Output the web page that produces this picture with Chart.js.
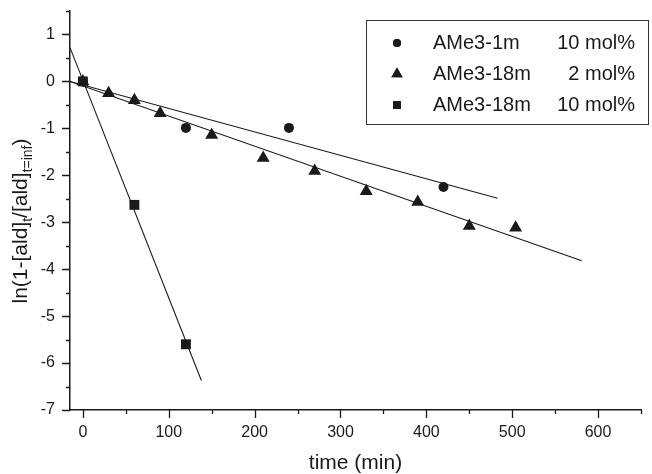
<!DOCTYPE html>
<html>
<head>
<meta charset="utf-8">
<script src="https://cdn.jsdelivr.net/npm/chart.js@4"></script>
<style>
  html, body { margin: 0; padding: 0; background: #fff; }
  #wrap { width: 652px; height: 474px; }
</style>
</head>
<body>
<div id="wrap"><canvas id="kineticsChart"></canvas></div>
<script>
// measured points
const time1m = [0, 120, 240, 420];
const ln1m = [0, -0.99, -0.99, -2.25];
const time18m2 = [0, 30, 60, 90, 150, 210, 270, 330, 390, 450, 504];
const ln18m2 = [0, -0.25, -0.40, -0.68, -1.14, -1.63, -1.91, -2.34, -2.57, -3.08, -3.12];
const time18m10 = [0, 60, 120];
const ln18m10 = [0, -2.63, -5.6];

// linear fits (end points)
const fit1mX = [-15, 483];
const fit1mY = [0.0, -2.49];
const fit18m2X = [-15, 581];
const fit18m2Y = [0.0, -3.82];
const fit18m10X = [-15, 138];
const fit18m10Y = [0.72, -6.37];

const xTicks = [0, 50, 100, 150, 200, 250, 300, 350, 400, 450, 500, 550, 600, 650];
const yTicks = [-7, -6.5, -6, -5.5, -5, -4.5, -4, -3.5, -3, -2.5, -2, -1.5, -1, -0.5, 0, 0.5, 1, 1.5];

const legendNames = ['AMe3-1m', 'AMe3-18m', 'AMe3-18m'];
const legendLoads = ['10 mol%', '2 mol%', '10 mol%'];
const legendShapes = ['circle', 'triangle', 'rect'];

const FONT = '"Liberation Sans", Arial, sans-serif';
const INK = '#1a1a1a';

const toPoints = (xs, ys) => xs.map((x, i) => ({ x: x, y: ys[i] }));

const markerSet = (label, xs, ys, shape, r) => ({
    label: label,
    data: toPoints(xs, ys),
    pointStyle: shape,
    pointRadius: r,
    pointBackgroundColor: INK,
    pointBorderColor: INK,
    pointBorderWidth: 0,
    showLine: false
});

const fitSet = (xs, ys) => ({
    data: toPoints(xs, ys),
    showLine: true,
    borderColor: INK,
    borderWidth: 1.1,
    pointRadius: 0,
    fill: false
});

// ticks, axis titles and legend box
const extras = {
    id: 'extras',
    afterDraw(chart) {
        const { ctx, scales: { x, y } } = chart;
        ctx.save();
        ctx.strokeStyle = INK;
        ctx.lineWidth = 1.3;
        ctx.beginPath();
        xTicks.forEach(v => {
            const px = Math.round(x.getPixelForValue(v)) + 0.5;
            const len = v % 100 === 0 ? 8 : 4;
            ctx.moveTo(px, y.bottom);
            ctx.lineTo(px, y.bottom + len);
        });
        yTicks.forEach(v => {
            const py = Math.round(y.getPixelForValue(v)) + 0.5;
            const len = Number.isInteger(v) ? 8 : 4;
            ctx.moveTo(x.left, py);
            ctx.lineTo(x.left - len, py);
        });
        ctx.stroke();

        ctx.fillStyle = INK;
        ctx.textBaseline = 'alphabetic';

        // x title
        ctx.font = '21px ' + FONT;
        ctx.textAlign = 'center';
        ctx.fillText('time (min)', (x.left + x.right) / 2, 469);

        // y title with subscripts
        const parts = [
            ['ln(1-[ald]', false], ['t', true], ['/[ald]', false], ['t=inf', true], [')', false]
        ];
        const mainFont = '21px ' + FONT;
        const subFont = '14px ' + FONT;
        let total = 0;
        parts.forEach(p => { ctx.font = p[1] ? subFont : mainFont; total += ctx.measureText(p[0]).width; });
        ctx.translate(27, 221);
        ctx.rotate(-Math.PI / 2);
        ctx.textAlign = 'left';
        let cx = -total / 2;
        parts.forEach(p => {
            ctx.font = p[1] ? subFont : mainFont;
            ctx.fillText(p[0], cx, p[1] ? 5 : 0);
            cx += ctx.measureText(p[0]).width;
        });
        ctx.setTransform(1, 0, 0, 1, 0, 0);

        // legend
        ctx.strokeStyle = '#333';
        ctx.lineWidth = 1;
        ctx.strokeRect(366.5, 20.5, 282, 104);
        const rows = [43, 74, 105];
        ctx.font = '20px ' + FONT;
        rows.forEach((ry, i) => {
            ctx.fillStyle = INK;
            ctx.textBaseline = 'middle';
            ctx.textAlign = 'left';
            ctx.fillText(legendNames[i], 433, ry);
            ctx.textAlign = 'right';
            ctx.fillText(legendLoads[i], 635, ry);
            const r = legendShapes[i] === 'triangle' ? 6.5 : legendShapes[i] === 'rect' ? 5.5 : 4;
            Chart.helpers.drawPoint(ctx, { pointStyle: legendShapes[i], radius: r, borderWidth: 0 }, 397, ry);
            ctx.fill();
        });
        ctx.restore();
    }
};

const ctx = document.getElementById('kineticsChart').getContext('2d');
new Chart(ctx, {
    type: 'scatter',
    data: {
        datasets: [
            markerSet('AMe3-18m 10 mol%', time18m10, ln18m10, 'rect', 7),
            markerSet('AMe3-18m 2 mol%', time18m2, ln18m2, 'triangle', 7.5),
            markerSet('AMe3-1m 10 mol%', time1m, ln1m, 'circle', 5),
            fitSet(fit1mX, fit1mY),
            fitSet(fit18m2X, fit18m2Y),
            fitSet(fit18m10X, fit18m10Y)
        ]
    },
    options: {
        responsive: true,
        maintainAspectRatio: false,
        animation: false,
        layout: { padding: { top: 11, right: 11, left: 0, bottom: 0 } },
        plugins: {
            legend: { display: false },
            tooltip: { enabled: false }
        },
        scales: {
            x: {
                type: 'linear',
                min: -15,
                max: 650,
                afterBuildTicks: s => { s.ticks = xTicks.map(v => ({ value: v })); },
                afterFit: s => { s.height = 64; s.paddingLeft = 0; s.paddingRight = 0; },
                grid: { display: false, drawTicks: false },
                border: { display: true, color: INK, width: 1.5 },
                ticks: {
                    padding: 13,
                    color: INK,
                    font: { family: FONT, size: 16 },
                    maxRotation: 0,
                    autoSkip: false,
                    callback: v => (v % 100 === 0 ? String(v) : '')
                }
            },
            y: {
                type: 'linear',
                min: -7,
                max: 1.5,
                afterBuildTicks: s => { s.ticks = yTicks.map(v => ({ value: v })); },
                afterFit: s => { s.width = 70; s.paddingTop = 0; s.paddingBottom = 0; },
                grid: { display: false, drawTicks: false },
                border: { display: true, color: INK, width: 1.5 },
                ticks: {
                    padding: 15,
                    color: INK,
                    font: { family: FONT, size: 16 },
                    autoSkip: false,
                    callback: v => (Number.isInteger(v) ? String(v) : '')
                }
            }
        }
    },
    plugins: [extras]
});
</script>
</body>
</html>
